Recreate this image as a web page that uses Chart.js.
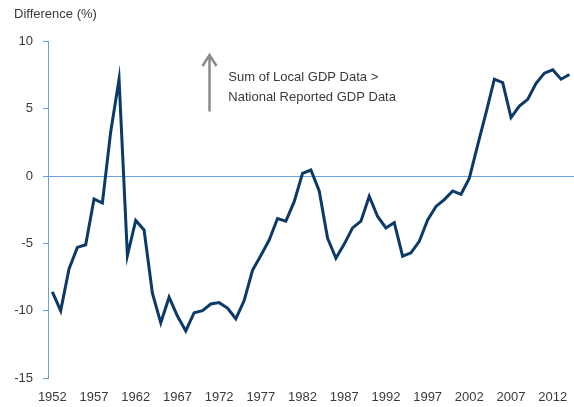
<!DOCTYPE html>
<html>
<head>
<meta charset="utf-8">
<script src="https://cdn.jsdelivr.net/npm/chart.js@4"></script>
<style>
  html, body { margin: 0; padding: 0; background: #ffffff; }
  canvas { display: block; }
</style>
</head>
<body>
<canvas id="c" width="574" height="407"></canvas>
<script>
const years = [1952,1953,1954,1955,1956,1957,1958,1959,1960,1961,1962,1963,1964,1965,1966,1967,1968,1969,1970,1971,1972,1973,1974,1975,1976,1977,1978,1979,1980,1981,1982,1983,1984,1985,1986,1987,1988,1989,1990,1991,1992,1993,1994,1995,1996,1997,1998,1999,2000,2001,2002,2003,2004,2005,2006,2007,2008,2009,2010,2011,2012,2013,2014];
const difference = [-8.6,-10.0,-6.9,-5.3,-5.1,-1.7,-2.0,3.3,7.2,-5.9,-3.3,-4.0,-8.7,-10.9,-9.0,-10.4,-11.5,-10.15,-10.0,-9.5,-9.4,-9.8,-10.6,-9.25,-7.0,-5.9,-4.75,-3.15,-3.35,-1.9,0.2,0.45,-1.1,-4.6,-6.1,-5.05,-3.85,-3.35,-1.5,-3.0,-3.85,-3.45,-5.95,-5.7,-4.85,-3.25,-2.25,-1.75,-1.1,-1.35,-0.15,2.3,4.7,7.2,6.95,4.35,5.2,5.7,6.9,7.65,7.9,7.2,7.55];
const xTickLabels = [1952,1957,1962,1967,1972,1977,1982,1987,1992,1997,2002,2007,2012];
const yTickLabels = [-15,-10,-5,0,5,10];
const yAxisTitle = 'Difference (%)';
const annotationLines = ['Sum of Local GDP Data >', 'National Reported GDP Data'];

const FONT = '"Liberation Sans", Arial, sans-serif';
const TEXT = '#3a3a3a';
const AXIS = '#6f9fd8';
const LINE = '#0b3a66';

const overlay = {
  id: 'overlay',
  afterDraw(chart) {
    const ctx = chart.ctx;
    const xs = chart.scales.x, ys = chart.scales.y;
    ctx.save();
    ctx.fillStyle = TEXT;
    ctx.font = '13px ' + FONT;
    ctx.textAlign = 'left';
    ctx.textBaseline = 'alphabetic';
    ctx.fillText(yAxisTitle, 14, 18);
    // arrow pointing up
    const ax = Math.round(xs.getPixelForValue(1970.8)) + 0.5;
    const yTop = ys.getPixelForValue(9.0);
    const yBot = ys.getPixelForValue(4.8);
    ctx.strokeStyle = '#8a8a8a';
    ctx.lineWidth = 2.5;
    ctx.beginPath();
    ctx.moveTo(ax, yBot);
    ctx.lineTo(ax, yTop + 1);
    ctx.stroke();
    ctx.beginPath();
    ctx.moveTo(ax - 7, yTop + 11);
    ctx.lineTo(ax, yTop);
    ctx.lineTo(ax + 7, yTop + 11);
    ctx.stroke();
    // annotation text
    const tx = xs.getPixelForValue(1973.1);
    ctx.fillStyle = TEXT;
    ctx.font = '13px ' + FONT;
    ctx.fillText(annotationLines[0], tx, ys.getPixelForValue(7.08));
    ctx.fillText(annotationLines[1], tx, ys.getPixelForValue(5.6));
    ctx.restore();
  }
};

new Chart(document.getElementById('c'), {
  type: 'line',
  data: {
    datasets: [{
      data: years.map((y, i) => ({ x: y, y: difference[i] })),
      borderColor: LINE,
      borderWidth: 3,
      pointRadius: 0,
      tension: 0,
      fill: false
    }]
  },
  options: {
    responsive: false,
    animation: false,
    events: [],
    layout: { padding: { left: 14, right: 0, top: 41.5, bottom: 0 } },
    plugins: { legend: { display: false }, tooltip: { enabled: false }, title: { display: false } },
    scales: {
      x: {
        type: 'linear',
        min: 1951.48,
        max: 2014.55,
        afterBuildTicks(scale) { scale.ticks = xTickLabels.map(v => ({ value: v })); },
        afterFit(scale) { scale.height = 29; scale.paddingLeft = 0; scale.paddingRight = 0; },
        grid: { display: false, drawTicks: false },
        border: { display: false },
        ticks: {
          autoSkip: false,
          maxRotation: 0,
          padding: 12,
          color: TEXT,
          font: { family: FONT, size: 13 },
          callback: v => String(v)
        }
      },
      y: {
        type: 'linear',
        min: -15,
        max: 10,
        afterBuildTicks(scale) { scale.ticks = yTickLabels.map(v => ({ value: v })); },
        afterFit(scale) { scale.width = 34; },
        grid: {
          color: ctx => (ctx.tick && ctx.tick.value === 0 ? AXIS : 'rgba(0,0,0,0)'),
          tickColor: AXIS,
          tickLength: 5,
          lineWidth: 1
        },
        border: { display: true, color: AXIS, width: 1 },
        ticks: {
          padding: 10,
          color: TEXT,
          font: { family: FONT, size: 13 },
          callback: v => String(v)
        }
      }
    }
  },
  plugins: [overlay]
});
</script>
</body>
</html>
